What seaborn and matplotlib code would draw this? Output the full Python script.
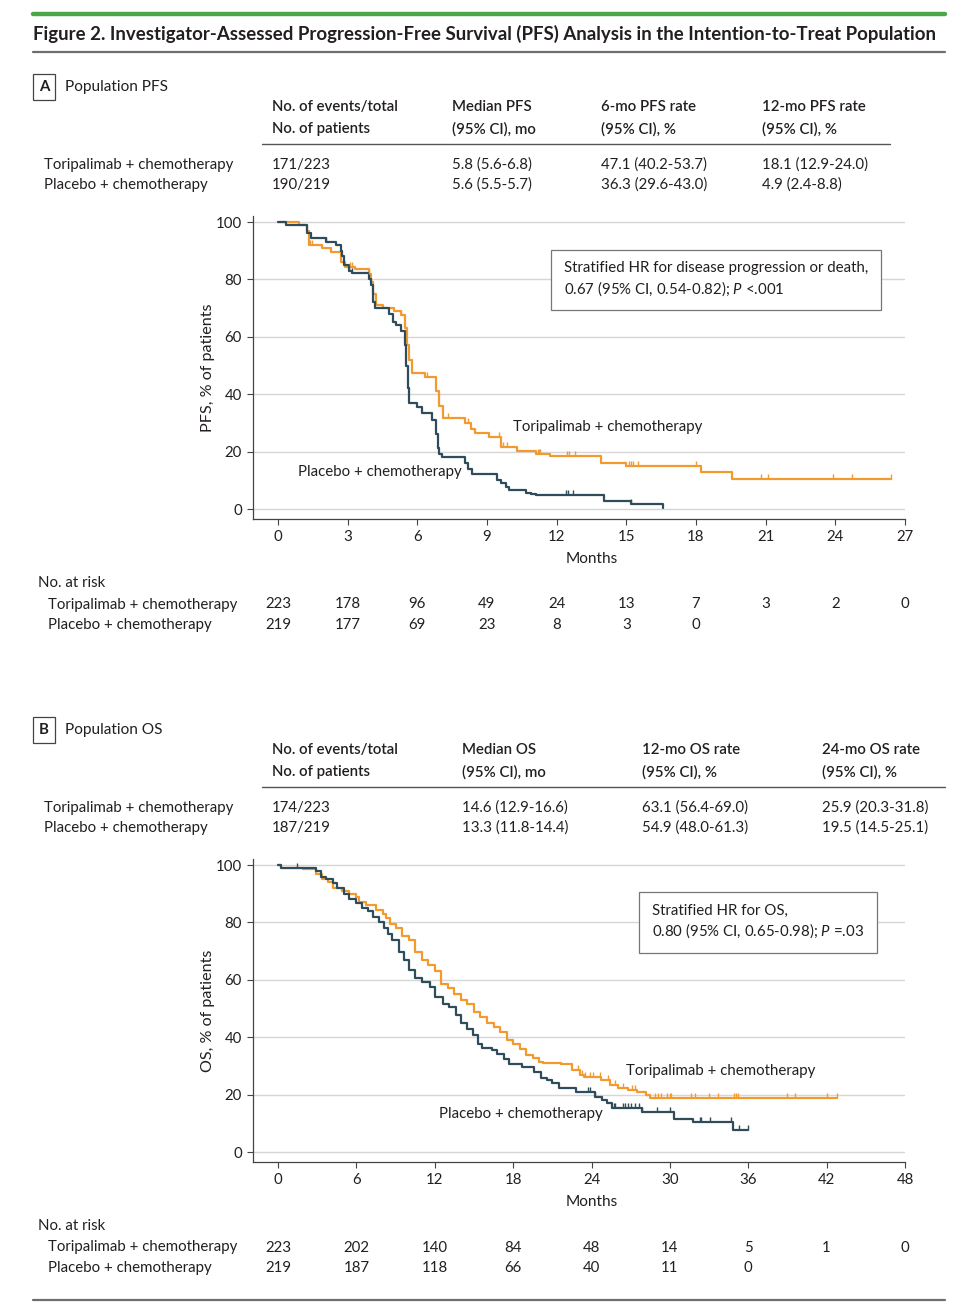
import numpy as np
import pandas as pd
import matplotlib
matplotlib.use('Agg')
import matplotlib.pyplot as plt
import seaborn as sns
from matplotlib.lines import Line2D
from matplotlib import transforms

W, H = 968, 1310

# ---- PFS curves (months, % progression-free) ----
tp_pfs_t = [0, 0.9, 1.26, 1.33, 1.9, 2.3, 2.7, 2.9, 3.3, 3.9, 4.0, 4.1, 4.2, 4.5, 5.0, 5.3,
            5.45, 5.55, 5.65, 5.75, 6.35, 6.8, 6.95, 7.1, 8.07, 8.3, 8.5, 9.08, 9.6, 10.3,
            11.1, 11.7, 13.9, 15.0, 18.2, 19.55, 26.4]
tp_pfs_s = [100, 99, 97, 92, 91, 89.5, 86, 84.5, 83.5, 82, 79, 75, 71, 70, 69, 67.5,
            63, 57, 52, 47.4, 46, 41, 36, 31.7, 30, 28, 26.6, 25, 21.7, 20.3,
            19.2, 18.3, 15.9, 15.0, 12.9, 10.6, 10.6]
tp_pfs_cens = [1.36, 1.45, 3.1, 3.2, 3.9, 5.3, 6.43, 7.33, 8.2, 9.5, 9.7, 9.85, 11.2, 11.25,
               11.3, 12.45, 12.55, 12.8, 15.1, 15.2, 15.3, 15.5, 18.0, 20.8, 21.1, 23.9,
               24.7, 26.4]

pl_pfs_t = [0, 0.33, 1.26, 1.4, 2.05, 2.5, 2.7, 2.77, 2.84, 3.06, 3.2, 3.9, 4.0, 4.1, 4.17,
            4.78, 4.95, 5.06, 5.3, 5.45, 5.5, 5.58, 5.64, 6.0, 6.2, 6.64, 6.8, 6.87, 6.93,
            7.07, 8.07, 8.2, 8.35, 8.48, 9.44, 9.6, 9.8, 9.94, 10.66, 10.9, 11.09, 14.03,
            14.28, 15.18, 16.6]
pl_pfs_s = [100, 99, 96.3, 94.5, 93, 92, 90, 88, 85.2, 83, 82.1, 80, 78, 72, 70,
            68, 65, 64, 62, 57, 50, 42, 37, 35.5, 33.4, 31, 26, 21.2, 19.2,
            18, 16, 14, 12.2, 12.2, 10, 9, 7.5, 6.6, 5.5, 5.2, 4.9, 2.9,
            2.9, 1.7, 0.2]
pl_pfs_cens = [2.05, 3.06, 3.2, 12.4, 12.5, 12.7, 15.2]

# ---- OS curves (months, % alive) ----
tp_os_t = [0, 0.2, 1.9, 2.9, 3.4, 3.8, 4.2, 4.9, 5.4, 6.0, 6.2, 6.7, 7.5, 8.0, 8.25, 8.6,
           9.0, 9.5, 10.0, 10.5, 11.0, 11.5, 12.0, 12.5, 13.0, 13.5, 14.0, 14.5, 15.0,
           15.5, 16.0, 16.5, 17.0, 17.5, 18.0, 18.5, 19.0, 19.5, 20.0, 20.3, 21.7, 22.5,
           23.1, 23.4, 24.7, 25.4, 26.0, 26.8, 27.5, 28.2, 28.5, 42.8]
tp_os_s = [100, 99, 98.5, 97, 95, 94.2, 92, 91, 90, 89, 87, 86, 84.3, 83, 81.5, 79.5,
           78, 75.2, 73.8, 69.8, 66.9, 65.1, 63, 58.7, 57, 55.2, 53.1, 51.7, 48.8,
           47.1, 44.8, 43.6, 41.9, 39, 37.8, 36, 33.7, 32.6, 31.4, 31.1, 30.5, 28.5,
           26.8, 26, 25.1, 23.3, 22.2, 21.6, 20.8, 19.9, 18.7, 18.7]
tp_os_cens = [23.0, 23.25, 23.5, 23.9, 24.1, 24.65, 25.3, 25.8, 26.4, 27.1, 27.3, 28.87,
              29.1, 29.3, 29.76, 30.0, 30.1, 31.6, 31.9, 33.0, 33.7, 34.9, 35.1, 35.25,
              39.0, 39.6, 42.0, 42.8]

pl_os_t = [0, 0.2, 2.9, 3.3, 3.7, 4.2, 4.5, 5.05, 5.4, 5.94, 6.45, 6.9, 7.3, 7.7, 8.1, 8.4,
           8.75, 9.26, 9.64, 10.0, 10.5, 11.0, 11.6, 12.0, 12.6, 13.1, 13.6, 14.0, 14.5,
           14.9, 15.3, 15.6, 16.4, 16.8, 17.3, 17.7, 18.7, 19.6, 20.1, 20.6, 21.0, 21.5,
           22.8, 24.3, 24.8, 25.2, 25.6, 27.9, 30.3, 31.8, 34.8, 36.0]
pl_os_s = [100, 99, 98, 96, 95, 93.6, 92, 90, 88, 86.6, 85, 84, 82, 80.2, 78, 76,
           73.8, 69.8, 66.9, 63.4, 60.5, 59.3, 57.6, 54.1, 51.7, 50.6, 47.7, 44.8, 43,
           40.7, 37.8, 36.3, 35.5, 34, 32.5, 30.8, 29.7, 27.9, 25.8, 25, 24, 22.4,
           20.9, 19.2, 18, 17, 15.3, 13.8, 11.5, 10.6, 7.7, 7.7]
pl_os_cens = [1.43, 23.7, 23.9, 24.3, 25.7, 25.8, 26.4, 26.6, 26.8, 27.0, 27.3, 27.6, 27.9,
              29.0, 30.0, 32.3, 32.4, 33.1, 34.7, 35.3, 36.0]

# ---- numbers at risk ----
pfs_ticks = [0, 3, 6, 9, 12, 15, 18, 21, 24, 27]
pfs_risk_tp = [223, 178, 96, 49, 24, 13, 7, 3, 2, 0]
pfs_risk_pl = [219, 177, 69, 23, 8, 3, 0]
os_ticks = [0, 6, 12, 18, 24, 30, 36, 42, 48]
os_risk_tp = [223, 202, 140, 84, 48, 14, 5, 1, 0]
os_risk_pl = [219, 187, 118, 66, 40, 11, 0]

# ---- summary tables ----
arms = ['Toripalimab + chemotherapy', 'Placebo + chemotherapy']
pfs_headers = [('No. of events/total', 'No. of patients'), ('Median PFS', '(95% CI), mo'),
               ('6-mo PFS rate', '(95% CI), %'), ('12-mo PFS rate', '(95% CI), %')]
pfs_rows = [['171/223', '5.8 (5.6-6.8)', '47.1 (40.2-53.7)', '18.1 (12.9-24.0)'],
            ['190/219', '5.6 (5.5-5.7)', '36.3 (29.6-43.0)', '4.9 (2.4-8.8)']]
os_headers = [('No. of events/total', 'No. of patients'), ('Median OS', '(95% CI), mo'),
              ('12-mo OS rate', '(95% CI), %'), ('24-mo OS rate', '(95% CI), %')]
os_rows = [['174/223', '14.6 (12.9-16.6)', '63.1 (56.4-69.0)', '25.9 (20.3-31.8)'],
           ['187/219', '13.3 (11.8-14.4)', '54.9 (48.0-61.3)', '19.5 (14.5-25.1)']]

for a, b in [(tp_pfs_t, tp_pfs_s), (pl_pfs_t, pl_pfs_s), (tp_os_t, tp_os_s), (pl_os_t, pl_os_s)]:
    assert len(a) == len(b), (len(a), len(b))

sns.set_theme(style='white')
plt.rcParams['font.family'] = ['Lato', 'DejaVu Sans']
plt.rcParams['mathtext.fontset'] = 'custom'
plt.rcParams['mathtext.rm'] = 'Lato'
plt.rcParams['mathtext.it'] = 'Lato:italic'

ORANGE = '#F39A2E'
SLATE = '#2E4C59'
INK = '#231F20'
GRID = '#D6D6D6'
FS = 10.8

fig = plt.figure(figsize=(W / 100, H / 100), dpi=100)


def fx(x):
    return x / W


def fy(y):
    return 1 - y / H


def hline(x0, x1, y, color, lw):
    fig.add_artist(Line2D([fx(x0), fx(x1)], [fy(y), fy(y)], color=color, lw=lw,
                          transform=fig.transFigure))


def step_at(times, surv, cens):
    idx = np.searchsorted(times, cens, side='right') - 1
    return np.asarray(surv)[idx]


def summary_table(y_label, letter, title, headers, rows, col_x, y_head, line_end):
    fig.text(fx(44), fy(y_label), letter, ha='center', va='center', fontsize=FS,
             fontweight='bold', color=INK,
             bbox=dict(boxstyle='square,pad=0.4', fc='white', ec='#444444', lw=0.9))
    fig.text(fx(65), fy(y_label), title, ha='left', va='center', fontsize=FS + 0.3, color=INK)
    for x, (h1, h2) in zip(col_x, headers):
        fig.text(fx(x), fy(y_head), h1, ha='left', va='center', fontsize=FS,
                 fontweight='semibold', color=INK)
        fig.text(fx(x), fy(y_head + 22), h2, ha='left', va='center', fontsize=FS,
                 fontweight='semibold', color=INK)
    hline(262, line_end, y_head + 37, '#555555', 1.0)
    for i, (arm, row) in enumerate(zip(arms, rows)):
        y = y_head + 58 + 20 * i
        fig.text(fx(44), fy(y), arm, ha='left', va='center', fontsize=FS, color=INK)
        for x, v in zip(col_x, row):
            fig.text(fx(x), fy(y), v, ha='left', va='center', fontsize=FS, color=INK)


def km_panel(top, xmax, ticks, curves, ylab, box_xy, box_text, labels, risk, risk_y):
    ax = fig.add_axes([fx(253), fy(top + 303), 652 / W, 303 / H])
    scale = (905 - 278) / xmax
    for t, s, cens, color in curves:
        df = pd.DataFrame({'Months': t, 'pct': s})
        sns.lineplot(data=df, x='Months', y='pct', drawstyle='steps-post', color=color,
                     lw=1.6, ax=ax, estimator=None, errorbar=None, sort=False)
        cdf = pd.DataFrame({'Months': cens, 'pct': step_at(t, s, cens)})
        sns.scatterplot(data=cdf, x='Months', y='pct', marker=[(0, 0), (0, 1)], s=55,
                        color=color, edgecolor=color, linewidth=1.0, ax=ax, zorder=3)
    ax.set_xlim(-25 / scale, xmax)
    ax.set_ylim(-3.48, 102.1)
    ax.set_xticks(ticks)
    ax.set_yticks(range(0, 101, 20))
    for yv in range(0, 101, 20):
        ax.axhline(yv, color=GRID, lw=1.0, zorder=0)
    for side in ['top', 'right']:
        ax.spines[side].set_visible(False)
    for side in ['left', 'bottom']:
        ax.spines[side].set_color('#444444')
        ax.spines[side].set_linewidth(0.9)
    ax.tick_params(axis='both', which='major', length=4, width=0.8, color='#444444',
                   labelsize=FS, labelcolor=INK, pad=4, bottom=True, left=True)
    ax.set_xlabel('Months', fontsize=FS + 0.3, color=INK)
    ax.set_ylabel(ylab, fontsize=FS + 0.8, color=INK)
    ax.xaxis.set_label_coords(0.52, -0.108)
    ax.yaxis.set_label_coords(-0.058, 0.5)
    for txt, x, y in labels:
        ax.text(x, y, txt, ha='left', va='center', fontsize=FS, color=INK)
    fig.text(fx(box_xy[0]), fy(box_xy[1]), box_text, ha='left', va='center', fontsize=FS,
             color=INK, linespacing=1.25,
             bbox=dict(boxstyle='square,pad=0.85', fc='white', ec='#777777', lw=0.9))
    # numbers at risk
    blend = transforms.blended_transform_factory(ax.transData, fig.transFigure)
    fig.text(fx(38), fy(risk_y), 'No. at risk', ha='left', va='center', fontsize=FS, color=INK)
    for i, (arm, vals) in enumerate(zip(arms, risk)):
        y = risk_y + 21.5 + 20.5 * i
        fig.text(fx(48), fy(y), arm, ha='left', va='center', fontsize=FS, color=INK)
        for tk, v in zip(ticks, vals):
            ax.text(tk, fy(y), str(v), transform=blend, ha='center', va='center',
                    fontsize=FS, color=INK)
    return ax


# header rules and title
hline(33, 945, 14, '#4DA646', 3.2)
fig.text(fx(33), fy(34), 'Figure 2. Investigator-Assessed Progression-Free Survival (PFS) Analysis '
         'in the Intention-to-Treat Population', ha='left', va='center', fontsize=13.4,
         fontweight='bold', color=INK, family=['Liberation Sans Narrow', 'Lato', 'DejaVu Sans'])
hline(33, 945, 52, '#6D6E71', 1.6)
hline(33, 945, 1300, '#6D6E71', 1.6)

summary_table(87, 'A', 'Population PFS', pfs_headers, pfs_rows, [272, 452, 601, 762], 107, 890)
summary_table(730, 'B', 'Population OS', os_headers, os_rows, [272, 462, 642, 822], 750, 945)

km_panel(216, 27, pfs_ticks,
         [(tp_pfs_t, tp_pfs_s, tp_pfs_cens, ORANGE), (pl_pfs_t, pl_pfs_s, pl_pfs_cens, SLATE)],
         'PFS, % of patients', (564, 279.5),
         'Stratified HR for disease progression or death,\n0.67 (95% CI, 0.54-0.82); $P$ <.001',
         [('Toripalimab + chemotherapy', 10.12, 28.6), ('Placebo + chemotherapy', 0.86, 12.9)],
         [pfs_risk_tp, pfs_risk_pl], 583)

km_panel(859, 48, os_ticks,
         [(tp_os_t, tp_os_s, tp_os_cens, ORANGE), (pl_os_t, pl_os_s, pl_os_cens, SLATE)],
         'OS, % of patients', (652, 922),
         'Stratified HR for OS,\n0.80 (95% CI, 0.65-0.98); $P$ =.03',
         [('Toripalimab + chemotherapy', 26.65, 28.2), ('Placebo + chemotherapy', 12.33, 13.2)],
         [os_risk_tp, os_risk_pl], 1226)

fig.savefig('out.png', dpi=100)
